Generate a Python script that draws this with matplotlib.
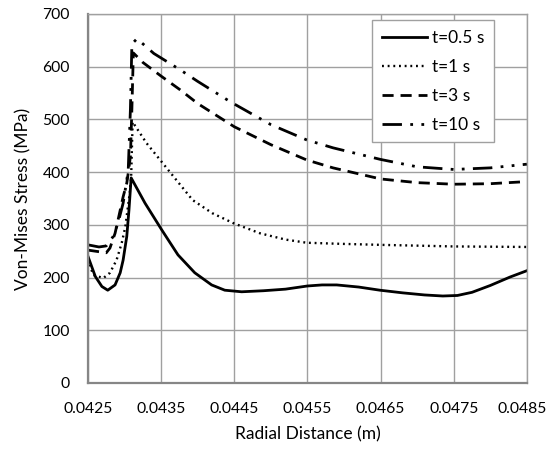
import matplotlib
matplotlib.use('Agg')
import matplotlib.pyplot as plt
import matplotlib.transforms as mtransforms

# t = 0.5 s
x1 = [0.04250, 0.04260, 0.04269, 0.04277, 0.04287, 0.04294, 0.04298, 0.04303, 0.04306,
      0.04309, 0.04328, 0.04351, 0.04373, 0.04396, 0.04419, 0.04437, 0.04460, 0.04490,
      0.04520, 0.04550, 0.04570, 0.04590, 0.04620, 0.04649, 0.04680, 0.04710, 0.04735,
      0.04755, 0.04775, 0.04800, 0.04827, 0.04850]
y1 = [240, 202, 183, 176, 186, 209, 233, 278, 328,
      389, 341, 290, 243, 209, 186, 176, 173, 175,
      178, 184, 186, 186, 182, 176, 171, 167, 165,
      166, 172, 185, 201, 213]

# t = 1 s
x2 = [0.04250, 0.04257, 0.04271, 0.04280, 0.04289, 0.04296, 0.04301, 0.04304, 0.04307,
      0.04309, 0.04311, 0.04330, 0.04362, 0.04393, 0.04420, 0.04449, 0.04485, 0.04520,
      0.04549, 0.04594, 0.04650, 0.04750, 0.04850]
y2 = [235, 205, 199, 209, 233, 265, 296, 328, 360,
      391, 495, 455, 400, 347, 322, 303, 284, 272,
      266, 264, 262, 259, 258]

# t = 3 s
x3 = [0.04250, 0.04265, 0.04275, 0.04280, 0.04287, 0.04292, 0.04298, 0.04303, 0.04305,
      0.04308, 0.04310, 0.04312, 0.04325, 0.04350, 0.04376, 0.04400, 0.04450, 0.04500,
      0.04549, 0.04585, 0.04650, 0.04700, 0.04750, 0.04800, 0.04850]
y3 = [252, 249, 247, 256, 284, 315, 353, 379, 398,
      430, 520, 626, 608, 582, 556, 530, 486, 452,
      423, 408, 387, 380, 377, 378, 382]

# t = 10 s
x4 = [0.04250, 0.04265, 0.04275, 0.04284, 0.04291, 0.04298, 0.04303, 0.04305, 0.04308,
      0.04310, 0.04317, 0.04340, 0.04376, 0.04400, 0.04445, 0.04500, 0.04549, 0.04585,
      0.04650, 0.04700, 0.04750, 0.04800, 0.04850]
y4 = [262, 258, 260, 277, 303, 341, 385, 404, 520,
      643, 653, 625, 594, 572, 533, 490, 461, 446,
      424, 410, 405, 408, 415]

xticks = [0.0425, 0.0435, 0.0445, 0.0455, 0.0465, 0.0475, 0.0485]
yticks = [0, 100, 200, 300, 400, 500, 600, 700]

plt.rcParams['font.family'] = ['Lato', 'DejaVu Sans']

fig = plt.figure(figsize=(5.5, 4.49), dpi=100)
ax = fig.add_axes([0.16, 0.147, 0.798, 0.822])

ax.plot(x1, y1, color='black', lw=2, label='t=0.5 s')
ax.plot(x2, y2, color='black', lw=1.7, linestyle=(0, (0.8, 1.6)), label='t=1 s')
ax.plot(x3, y3, color='black', lw=2, linestyle=(0, (4, 2.5)), label='t=3 s')
ax.plot(x4, y4, color='black', lw=2, linestyle=(0, (7, 3, 1, 3, 1, 3)), label='t=10 s')

ax.set_xlim(0.0425, 0.0485)
ax.set_ylim(0, 700)
ax.set_xticks(xticks)
ax.set_xticklabels(['%.4f' % v for v in xticks])
ax.set_yticks(yticks)
ax.tick_params(length=0, labelsize=11.3)
ax.tick_params(axis='x', pad=14)
ax.tick_params(axis='y', pad=13)
ax.grid(True, color='#a0a0a0', lw=1)
ax.set_axisbelow(True)
for s in ['top', 'right']:
    ax.spines[s].set_color('#a0a0a0')
    ax.spines[s].set_linewidth(1)
for s in ['left', 'bottom']:
    ax.spines[s].set_color('#868686')
    ax.spines[s].set_linewidth(1.6)

# last label sits at the edge of the figure, nudge it in a little
last = ax.get_xticklabels()[-1]
last.set_transform(last.get_transform() + mtransforms.ScaledTranslation(-5 / 100, 0, fig.dpi_scale_trans))

ax.set_xlabel('Radial Distance (m)', fontsize=12.5, labelpad=7)
ax.set_ylabel('Von-Mises Stress (MPa)', fontsize=12.5, labelpad=8)

leg = ax.legend(loc='upper left', bbox_to_anchor=(0.648, 0.983), fontsize=12.5,
                fancybox=False, framealpha=1, edgecolor='#a0a0a0',
                handlelength=2.6, handletextpad=0.3, borderpad=0.55, labelspacing=0.75,
                borderaxespad=0)
leg.get_frame().set_linewidth(1)

fig.savefig('out.png', dpi=100)
